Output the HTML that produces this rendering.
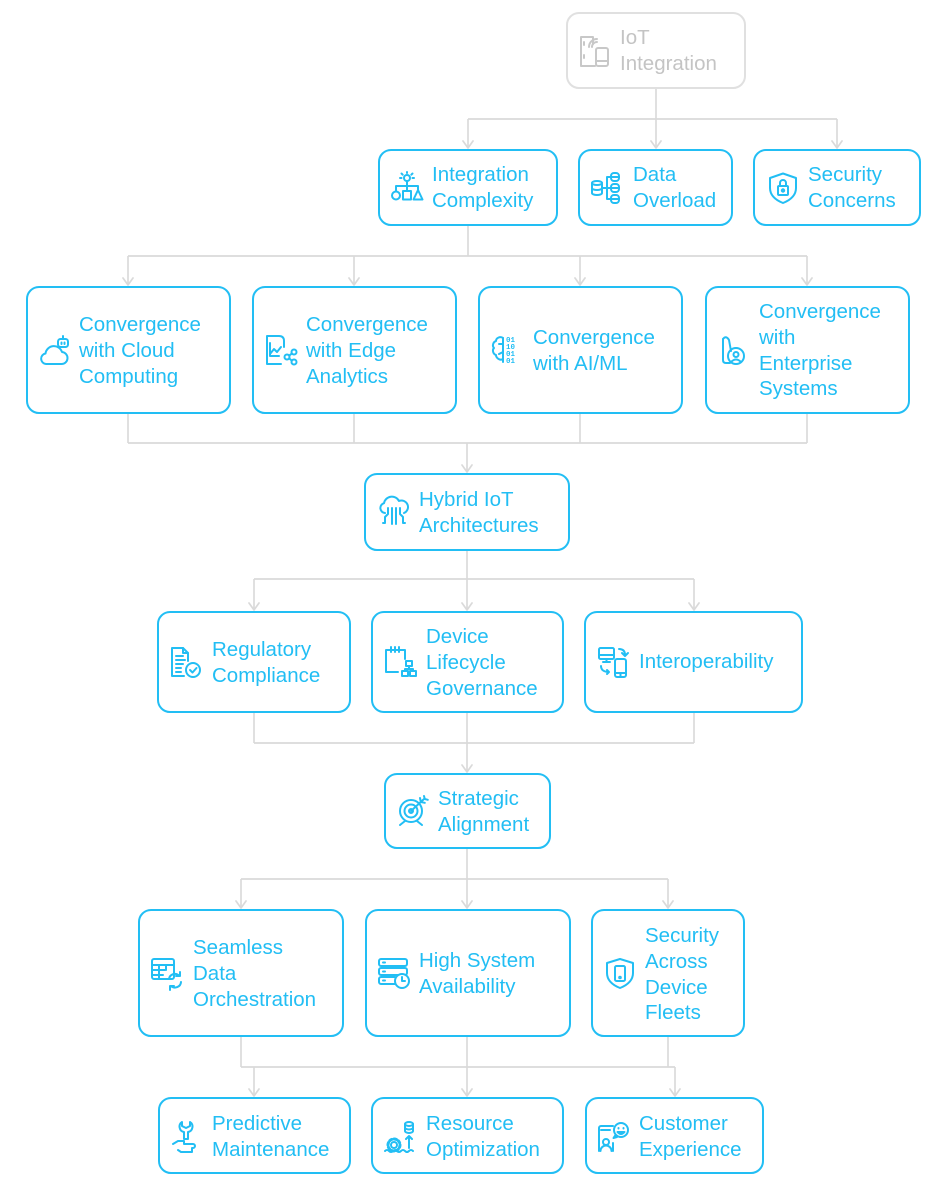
<!DOCTYPE html>
<html>
<head>
<meta charset="utf-8">
<style>
html,body{margin:0;padding:0;background:#fff;}
#c{position:relative;width:946px;height:1200px;overflow:hidden;background:#fff;}
.b{position:absolute;box-sizing:border-box;border:2px solid #22bef4;border-radius:13px;background:#fff;}
.g{border-color:#e0e0e0;}
.t{position:absolute;font-family:"Liberation Sans",sans-serif;font-size:20.5px;line-height:25.6px;color:#22bef4;white-space:nowrap;}
.tg{color:#c4c4c4;}
svg{position:absolute;left:0;top:0;}
.ln{fill:none;stroke:#dadada;stroke-width:1.7;}
.ar{fill:none;stroke:#dadada;stroke-width:1.7;stroke-linecap:round;stroke-linejoin:round;}
.i{fill:none;stroke:#22bef4;stroke-width:2;stroke-linecap:round;stroke-linejoin:round;}
.ig{fill:none;stroke:#c8c8c8;stroke-width:2;stroke-linecap:round;stroke-linejoin:round;}
</style>
</head>
<body>
<div id="c">

<!-- connectors -->
<svg width="946" height="1200" viewBox="0 0 946 1200">
<path class="ln" d="M656 89V119M468 119H837M468 119V148M656 119V148M837 119V148
M468 226V256M128 256H807M128 256V285M354 256V285M580 256V285M807 256V285
M128 414V443M354 414V443M580 414V443M807 414V443M128 443H807M467 443V472
M467 551V579M254 579H694M254 579V610M467 579V610M694 579V610
M254 713V743M467 713V743M694 713V743M254 743H694M467 743V772
M467 849V879M241 879H668M241 879V908M467 879V908M668 879V908
M241 1037V1067M467 1037V1067M668 1037V1067M241 1067H675M254 1067V1096M467 1067V1096M675 1067V1096"/>
<g class="ar">
<path d="M463 141l5 7 5-7M651 141l5 7 5-7M832 141l5 7 5-7"/>
<path d="M123 278l5 7 5-7M349 278l5 7 5-7M575 278l5 7 5-7M802 278l5 7 5-7"/>
<path d="M462 465l5 7 5-7"/>
<path d="M249 603l5 7 5-7M462 603l5 7 5-7M689 603l5 7 5-7"/>
<path d="M462 765l5 7 5-7"/>
<path d="M236 901l5 7 5-7M462 901l5 7 5-7M663 901l5 7 5-7"/>
<path d="M249 1089l5 7 5-7M462 1089l5 7 5-7M670 1089l5 7 5-7"/>
</g>
</svg>

<!-- boxes -->
<div class="b g" style="left:566px;top:12px;width:180px;height:77px;"></div>
<div class="b" style="left:378px;top:149px;width:180px;height:77px;"></div>
<div class="b" style="left:578px;top:149px;width:155px;height:77px;"></div>
<div class="b" style="left:753px;top:149px;width:168px;height:77px;"></div>

<div class="b" style="left:26px;top:286px;width:205px;height:128px;"></div>
<div class="b" style="left:252px;top:286px;width:205px;height:128px;"></div>
<div class="b" style="left:478px;top:286px;width:205px;height:128px;"></div>
<div class="b" style="left:705px;top:286px;width:205px;height:128px;"></div>

<div class="b" style="left:364px;top:473px;width:206px;height:78px;"></div>

<div class="b" style="left:157px;top:611px;width:194px;height:102px;"></div>
<div class="b" style="left:371px;top:611px;width:193px;height:102px;"></div>
<div class="b" style="left:584px;top:611px;width:219px;height:102px;"></div>

<div class="b" style="left:384px;top:773px;width:167px;height:76px;"></div>

<div class="b" style="left:138px;top:909px;width:206px;height:128px;"></div>
<div class="b" style="left:365px;top:909px;width:206px;height:128px;"></div>
<div class="b" style="left:591px;top:909px;width:154px;height:128px;"></div>

<div class="b" style="left:158px;top:1097px;width:193px;height:77px;"></div>
<div class="b" style="left:371px;top:1097px;width:193px;height:77px;"></div>
<div class="b" style="left:585px;top:1097px;width:179px;height:77px;"></div>

<!-- labels -->
<div class="t tg" style="left:620px;top:25.4px;">IoT<br>Integration</div>
<div class="t" style="left:432px;top:162.4px;">Integration<br>Complexity</div>
<div class="t" style="left:633px;top:162.4px;">Data<br>Overload</div>
<div class="t" style="left:808px;top:162.4px;">Security<br>Concerns</div>

<div class="t" style="left:79px;top:312.4px;">Convergence<br>with Cloud<br>Computing</div>
<div class="t" style="left:306px;top:312.4px;">Convergence<br>with Edge<br>Analytics</div>
<div class="t" style="left:533px;top:325.4px;">Convergence<br>with AI/ML</div>
<div class="t" style="left:759px;top:299.4px;">Convergence<br>with<br>Enterprise<br>Systems</div>

<div class="t" style="left:419px;top:487.4px;">Hybrid IoT<br>Architectures</div>

<div class="t" style="left:212px;top:637.4px;">Regulatory<br>Compliance</div>
<div class="t" style="left:426px;top:624.4px;">Device<br>Lifecycle<br>Governance</div>
<div class="t" style="left:639px;top:649.4px;">Interoperability</div>

<div class="t" style="left:438px;top:786.4px;">Strategic<br>Alignment</div>

<div class="t" style="left:193px;top:935.4px;">Seamless<br>Data<br>Orchestration</div>
<div class="t" style="left:419px;top:948.4px;">High System<br>Availability</div>
<div class="t" style="left:645px;top:923.4px;">Security<br>Across<br>Device<br>Fleets</div>

<div class="t" style="left:212px;top:1111.4px;">Predictive<br>Maintenance</div>
<div class="t" style="left:426px;top:1111.4px;">Resource<br>Optimization</div>
<div class="t" style="left:639px;top:1111.4px;">Customer<br>Experience</div>

<!-- icons -->
<svg width="946" height="1200" viewBox="0 0 946 1200">
<g class="ig" transform="translate(579,35)">
<path d="M14 9V2H2V31H16"/>
<path d="M5 7v3M5 20v3"/>
<path d="M10 12a8 8 0 0 1 8-8M13 12a5 5 0 0 1 5-5"/>
<rect x="17" y="13" width="12" height="18" rx="2"/>
<path d="M17 26h12"/>
</g>
<g class="i" transform="translate(391,172)">
<circle cx="16" cy="6" r="3"/>
<path d="M16 0v1M10.5 1.5l1.2 1.2M21.5 1.5l-1.2 1.2M9 6h1.5M23 6h-1.5"/>
<path d="M16 9v5M5 14h22M5 14v5M27 14v4M16 14v5"/>
<circle cx="5" cy="23.5" r="4"/>
<rect x="12" y="19" width="8" height="8.5"/>
<path d="M27 18l4.5 9.5h-9z"/>
</g>
<g class="i" transform="translate(591,172)">
<ellipse cx="6" cy="11" rx="5" ry="2"/>
<path d="M1 11v10c0 1.1 2.2 2 5 2s5-.9 5-2V11M1 16c0 1.1 2.2 2 5 2s5-.9 5-2"/>
<path d="M11 16h9M20 5h-4v22h4"/>
<rect x="20" y="1" width="8" height="8" rx="3"/>
<rect x="20" y="12" width="8" height="8" rx="3"/>
<rect x="20" y="23" width="8" height="8" rx="3"/>
<path d="M20 5h8M20 16h8M20 27h8"/>
</g>
<g class="i" transform="translate(767,172)">
<path d="M16 1.5L29 6v10c0 7-5.5 12-13 15C8.5 28 3 23 3 16V6z"/>
<rect x="11" y="14" width="10" height="9" rx="1"/>
<path d="M13 14v-3a3 3 0 0 1 6 0v3"/>
<circle cx="16" cy="18.5" r="1.2"/>
</g>
<g class="i" transform="translate(38,334)">
<path d="M8 30h15a6 6 0 0 0 1-12a8.5 8.5 0 0 0-16.5 1.5A5.3 5.3 0 0 0 8 30z"/>
<rect x="20" y="5" width="10" height="8" rx="2.5" fill="#fff"/>
<path d="M25 5V2"/>
<path d="M23.5 8.5v1.5M26.5 8.5v1.5"/>
</g>
<g class="i" transform="translate(265,334)">
<path d="M19 13V7q0-5-5-5H2v28h14"/>
<path d="M5 9v13h9"/>
<path d="M5 20l4-5 3 3 4-5"/>
<circle cx="22" cy="23" r="2.5"/>
<circle cx="29" cy="18" r="2.5"/>
<circle cx="29" cy="28" r="2.5"/>
<path d="M24.2 21.6l2.6-2M24.2 24.4l2.6 2.2"/>
</g>
<g class="i" transform="translate(491,334)">
<path d="M12 4c-3-2-7 0-7 3-3 1-4 5-2 7-2 2-1 6 2 7 0 3 4 6 7 4"/>
<path d="M12 4v24M8 10h4M8 20l4-2"/>
</g>
<g transform="translate(491,334)" font-family="Liberation Mono, monospace" font-size="7.5" font-weight="bold" fill="#22bef4">
<text x="15" y="8">01</text>
<text x="15" y="15">10</text>
<text x="15" y="22">01</text>
<text x="15" y="29">01</text>
</g>
<g class="i" transform="translate(719,334)">
<path d="M4 5q3-4 6 1l2 11"/>
<path d="M4 5v21q0 3 3 3h4"/>
<circle cx="17" cy="22" r="8"/>
<circle cx="17" cy="20.5" r="2.5"/>
<path d="M12 28q5-5 10 0"/>
</g>
<g class="i" transform="translate(378,496)">
<path d="M7 17a5 5 0 0 1-1-9.8A8 8 0 0 1 21 5a6 6 0 0 1 5 12"/>
<path d="M10 12v6l-3 3v6M14 12v16M18 12v16M22 12v6l3 3v6M5 27h2M25 27h2"/>
</g>
<g class="i" transform="translate(170,646)">
<path d="M18 15V7l-5-5H2v28h12"/>
<path d="M13 2v5h5"/>
<path d="M6 10h7M6 14h9M6 18h7M6 22h5M6 26h5"/>
<circle cx="23" cy="24" r="7"/>
<path d="M20 24l2.5 2.5 4-4.5"/>
</g>
<g class="i" transform="translate(384,646)">
<path d="M21 13V4H2v22h12"/>
<path d="M7 1v5M11 1v5M15 1v5"/>
<rect x="22" y="15" width="6" height="5"/>
<rect x="18" y="25" width="6" height="5"/>
<rect x="26" y="25" width="6" height="5"/>
<path d="M25 20v3M21 23h8M21 23v2M29 23v2"/>
</g>
<g class="i" transform="translate(598,646)">
<rect x="1" y="2" width="15" height="11" rx="1.5"/>
<path d="M1 9h15M8.5 13v3M5 16h7"/>
<rect x="17" y="13" width="11" height="18" rx="2"/>
<path d="M17 27h11M22.5 27v4"/>
<path d="M21 3c4 0 6 2 6 6M24 7l3 3 3-3"/>
<path d="M3 20c0 4 3 6 8 6M9 24l2 2-2 2"/>
</g>
<g class="i" transform="translate(397,795)">
<circle cx="14" cy="16" r="11"/>
<circle cx="14" cy="16" r="6.5"/>
<circle cx="14" cy="16" r="2"/>
<path d="M14 16L27 4M23 3l.8 4 4 .8M27 1l.8 3 3 .8"/>
<path d="M8 26l-5 4M20 26l5 4"/>
</g>
<g class="i" transform="translate(151,957)">
<rect x="1" y="2" width="22" height="20" rx="2"/>
<path d="M1 8h22M1 13h13M1 18h11M8 8v14M15 8v5"/>
<path d="M18 22a6 6 0 0 1 10-3.5M30 25a6 6 0 0 1-10 4"/>
<path d="M29 15v4h-4M19 33v-4h4"/>
</g>
<g class="i" transform="translate(378,957)">
<rect x="1" y="2" width="28" height="7" rx="2"/>
<rect x="1" y="11" width="28" height="7" rx="2"/>
<path d="M17 27H3a2 2 0 0 1-2-2v-3a2 2 0 0 1 2-2h14"/>
<path d="M5 5.5h2M5 14.5h2M5 23.5h2"/>
<circle cx="24" cy="24" r="7" fill="#fff"/>
<path d="M24 20v4h3"/>
</g>
<g class="i" transform="translate(604,957)">
<path d="M16 2L29 6v10c0 7-5.5 12-13 15C8.5 28 3 23 3 16V6z"/>
<rect x="11" y="9" width="10" height="15" rx="1.5"/>
<circle cx="16" cy="20.5" r=".8"/>
</g>
<g class="i" transform="translate(172,1120)">
<path d="M10 2a5.5 5.5 0 0 0 2 10v7h4v-7a5.5 5.5 0 0 0 2-10v4l-4 2-4-2z"/>
<path d="M1 24l5-3h6M12 21v3h9a2 2 0 0 1 0 4h-1M20 28v4H9l-3-2"/>
</g>
<g class="i" transform="translate(384,1120)">
<circle cx="10" cy="25" r="3"/>
<circle cx="10" cy="25" r="6" stroke-width="3" stroke-dasharray="2.4 2.3"/>
<path d="M1 31q2-2 4 0t4 0 4 0 4 0 4 0 4 0 4 0"/>
<ellipse cx="25" cy="4" rx="4" ry="2"/>
<path d="M21 4v7c0 1 1.8 2 4 2s4-1 4-2V4M21 7.5c0 1 1.8 2 4 2s4-1 4-2"/>
<path d="M25 28V16M22 19l3-3 3 3"/>
</g>
<g class="i" transform="translate(597,1120)">
<path d="M16 6H4a2 2 0 0 0-2 2v23M16 31V23"/>
<path d="M4 10h9"/>
<circle cx="9" cy="22" r="3"/>
<path d="M3.5 31a5.5 5.5 0 0 1 11 0"/>
<circle cx="24" cy="10" r="7" fill="#fff"/>
<path d="M20.5 12q3.5 4 7 0z"/>
<path d="M21.5 8v.5M26.5 8v.5"/>
<path d="M18.5 15l-2 3 3.5-1"/>
</g>
</svg>

</div>
</body>
</html>
